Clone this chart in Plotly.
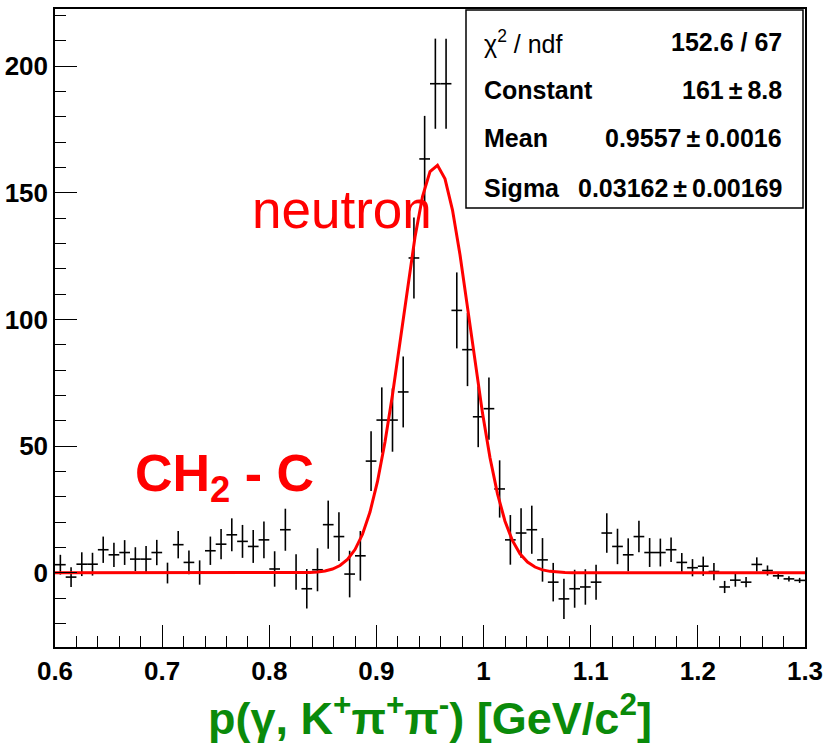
import numpy as np
import plotly.graph_objects as go

# ---- histogram: 70 bins of 0.01 GeV/c^2 between 0.6 and 1.3 ----
x_low, x_high, bin_width = 0.6, 1.3, 0.01
bin_centers = [round(x_low + bin_width * (i + 0.5), 4) for i in range(70)]

counts = [
    3.2, -1.7, 3.4, 3.4, 9.1, 7.1, 8.0, 5.4, 5.4, 8.0,
    -0.1, 11.1, 4.1, 0.1, 8.7, 11.3, 15.0, 12.4, 10.4, 13.0,
    1.5, 17.0, 0.3, -6.3, 1.2, 19.0, 14.3, -0.5, 6.7, 44.1,
    60.3, 60.3, 71.4, 124.3, 163.4, 193.1, 193.1, 103.6, 88.1, 61.6,
    64.8, 33.1, 13.0, 15.7, 17.0, 5.1, -3.7, -10.3, -6.3, -5.6,
    -3.7, 15.7, 10.4, 7.1, 14.3, 8.0, 8.0, 9.1, 4.1, 2.0,
    2.6, 0.5, -5.6, -2.9, -3.7, 3.3, 0.9, -1.2, -2.4, -3.0,
]

errors = [
    3.9, 3.9, 4.7, 4.5, 5.2, 4.8, 4.9, 4.7, 5.2, 5.0,
    4.1, 5.4, 4.7, 4.8, 5.6, 6.0, 6.5, 6.5, 6.5, 7.3,
    7.0, 8.3, 7.0, 7.8, 8.5, 9.5, 9.6, 9.2, 9.8, 11.8,
    12.9, 12.5, 14.0, 16.0, 17.0, 17.8, 17.8, 15.0, 14.4, 12.0,
    12.3, 11.3, 9.8, 9.8, 9.5, 8.6, 7.6, 7.9, 7.5, 7.0,
    6.9, 7.8, 7.0, 6.5, 6.2, 5.7, 5.5, 4.8, 3.7, 3.4,
    3.8, 3.4, 2.4, 2.6, 2.0, 2.8, 2.0, 1.3, 1.0, 1.0,
]

x_ticks = [0.6, 0.7, 0.8, 0.9, 1.0, 1.1, 1.2, 1.3]
x_tick_text = ["0.6", "0.7", "0.8", "0.9", "1", "1.1", "1.2", "1.3"]
y_ticks = [0, 50, 100, 150, 200]

# ---- Gaussian fit result ----
fit_constant = 161.0
fit_mean = 0.9557
fit_sigma = 0.03162
stats_rows = [
    ("χ<sup>2</sup> / ndf", "152.6 / 67", "normal"),
    ("Constant", "161\u2009±\u20098.8", "bold"),
    ("Mean", "0.9557\u2009±\u20090.0016", "bold"),
    ("Sigma", "0.03162\u2009±\u20090.00169", "bold"),
]

# fit function evaluated on 100 segments across the axis range
fit_x = np.linspace(x_low, x_high, 101)
fit_y = fit_constant * np.exp(-0.5 * ((fit_x - fit_mean) / fit_sigma) ** 2)

FONT = "Liberation Sans, Arial, Helvetica, sans-serif"

fig = go.Figure()

fig.add_trace(go.Scatter(
    x=bin_centers, y=counts, mode="markers",
    marker=dict(size=0.1, color="black"),
    error_y=dict(type="data", array=errors, color="black", thickness=1.6, width=0),
    error_x=dict(type="constant", value=bin_width / 2, color="black", thickness=1.6, width=0),
    showlegend=False, hoverinfo="skip",
))

fig.add_trace(go.Scatter(
    x=fit_x, y=fit_y, mode="lines",
    line=dict(color="#ff0000", width=3),
    showlegend=False, hoverinfo="skip",
))

axis_common = dict(
    showgrid=False, zeroline=False,
    showline=True, linecolor="black", linewidth=1.5, mirror=True,
    ticks="inside", ticklen=22, tickwidth=1.2, tickcolor="black",
    tickfont=dict(family=FONT, size=26, color="black", weight="bold"),
    ticklabeloverflow="allow",
    automargin=False,
)

fig.update_xaxes(
    range=[x_low, x_high], tickmode="array", tickvals=x_ticks, ticktext=x_tick_text,
    minor=dict(dtick=0.02, tick0=0.6, ticks="inside", ticklen=11, tickcolor="black", tickwidth=1.2),
    title=dict(
        text="p(γ, K<sup>+</sup>π<sup>+</sup>π<sup>-</sup>) [GeV/c<sup>2</sup>]",
        font=dict(family=FONT, size=45, color="#0a8a0a", weight="bold"),
        standoff=20,
    ),
    **axis_common,
)
fig.update_yaxes(
    range=[-29.3, 222.6], tickmode="array", tickvals=y_ticks,
    minor=dict(dtick=10, tick0=0, ticks="inside", ticklen=11, tickcolor="black", tickwidth=1.2),
    **axis_common,
)

# statistics box
px_left, px_right, px_top, px_bottom = 55, 805, 9, 647


def paper_x(px):
    return (px - px_left) / (px_right - px_left)


def paper_y(py):
    return (px_bottom - py) / (px_bottom - px_top)


fig.add_shape(
    type="rect", xref="paper", yref="paper",
    x0=paper_x(466), x1=paper_x(803), y0=paper_y(208), y1=paper_y(10),
    line=dict(color="black", width=1.5), fillcolor="white", layer="above",
)

row_centers = [42, 90, 138, 188]
for (label, value, weight), yc in zip(stats_rows, row_centers):
    fig.add_annotation(
        xref="paper", yref="paper", x=paper_x(482), y=paper_y(yc),
        xanchor="left", yanchor="middle", showarrow=False, text=label,
        font=dict(family=FONT, size=25, color="black", weight=weight),
    )
    fig.add_annotation(
        xref="paper", yref="paper", x=paper_x(784), y=paper_y(yc),
        xanchor="right", yanchor="middle", showarrow=False, text=value,
        font=dict(family=FONT, size=25, color="black", weight="bold"),
    )

fig.add_annotation(
    x=0.868, y=143.5, xref="x", yref="y", showarrow=False, text="neutron",
    font=dict(family=FONT, size=53, color="#ff0000"),
)
fig.add_annotation(
    x=0.758, y=38, xref="x", yref="y", showarrow=False, text="CH<sub>2</sub> - C",
    font=dict(family=FONT, size=52, color="#ff0000", weight="bold"),
)

fig.update_layout(
    width=823, height=744,
    margin=dict(l=px_left, r=823 - px_right, t=px_top, b=744 - px_bottom),
    paper_bgcolor="white", plot_bgcolor="white",
)

fig.write_html("out.html")
